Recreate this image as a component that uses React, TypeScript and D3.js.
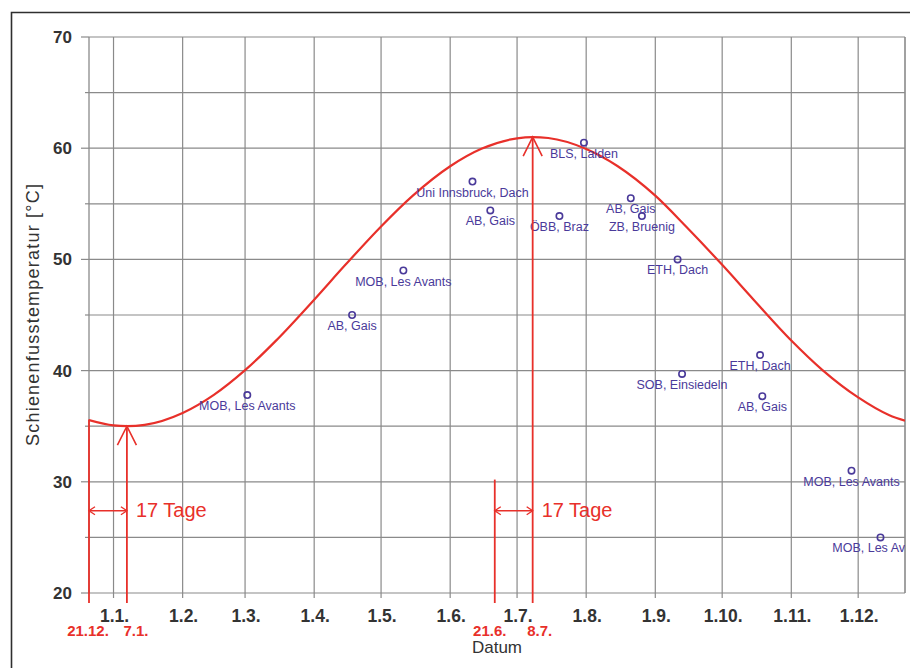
import React from "react";
import * as d3 from "d3";

// ---------- data ----------
const monthTicks = ["2011-01-01","2011-02-01","2011-03-01","2011-04-01","2011-05-01","2011-06-01","2011-07-01","2011-08-01","2011-09-01","2011-10-01","2011-11-01","2011-12-01"];
const monthTickLabels = ["1.1.","1.2.","1.3.","1.4.","1.5.","1.6.","1.7.","1.8.","1.9.","1.10.","1.11.","1.12."];
const yTicks = [20, 30, 40, 50, 60, 70];
const yGrid = [20, 25, 30, 35, 40, 45, 50, 55, 60, 65, 70];

const curveDates = ["2010-12-21","2011-01-01","2011-01-07","2011-01-15","2011-02-01","2011-02-15","2011-03-01","2011-03-15","2011-04-01","2011-04-15","2011-05-01","2011-05-15","2011-06-01","2011-06-15","2011-07-01","2011-07-08","2011-07-15","2011-08-01","2011-08-15","2011-09-01","2011-09-15","2011-10-01","2011-10-15","2011-11-01","2011-11-15","2011-12-01","2011-12-15","2011-12-22"];
const curveTemps = [35.55,35.07,35.0,35.12,36.19,37.82,40.04,42.72,46.38,49.51,52.96,55.69,58.38,59.95,60.89,61.0,60.92,59.93,58.40,55.73,52.91,49.51,46.40,42.71,40.05,37.59,35.99,35.50];

const sensorDates = ["2011-03-02","2011-04-18","2011-05-11","2011-06-11","2011-06-19","2011-07-31","2011-07-20","2011-08-21","2011-08-26","2011-09-11","2011-10-18","2011-09-13","2011-10-19","2011-11-28","2011-12-11"];
const sensorTemps = [37.8,45.0,49.0,57.0,54.4,60.5,53.9,55.5,53.9,50.0,41.4,39.7,37.7,31.0,25.0];
const sensorLabels = ["MOB, Les Avants","AB, Gais","MOB, Les Avants","Uni Innsbruck, Dach","AB, Gais","BLS, Lalden","ÖBB, Braz","AB, Gais","ZB, Bruenig","ETH, Dach","ETH, Dach","SOB, Einsiedeln","AB, Gais","MOB, Les Avants","MOB, Les Avants"];

const markDates = ["2010-12-21","2011-01-07","2011-06-21","2011-07-08"];
const markLabels = ["21.12.","7.1.","21.6.","8.7."];
const markTopTemps = [35.6, 35.0, 30.2, 61.0];
const markIsArrow = [false, true, false, true];
const spanPairs = [[0, 1], [2, 3]];
const spanText = "17 Tage";
const spanTemp = 27.4;

// ---------- styles ----------
const FONT = "'Liberation Sans', Arial, Helvetica, sans-serif";
const RED = "#e8302a";
const PURPLE = "#4a3a9a";
const GRID = "#8a8a8a";
const TEXT = "#333333";

const parse = d3.utcParse("%Y-%m-%d");

export default function App() {
  const W = 910, H = 668;
  const L = 89, R = 905, T = 37, B = 593;

  const x = d3.scaleUtc()
    .domain([parse("2010-12-21")!, parse("2011-12-22")!])
    .range([L, R]);
  const y = d3.scaleLinear().domain([20, 70]).range([B, T]);

  const curvePts = curveDates.map((d, i) => [x(parse(d)!), y(curveTemps[i])] as [number, number]);
  const line = d3.line().curve(d3.curveMonotoneX);
  const curvePath = line(curvePts) || "";

  const markX = markDates.map(d => x(parse(d)!));
  const labelDx = [-1, 9, -5, 7];

  const arrowY = y(spanTemp);

  return (
    <svg width={W} height={H} style={{ position: "absolute", left: 0, top: 0, background: "#fff" }}
      fontFamily={FONT}>
      <defs>
        <clipPath id="plotclip">
          <rect x={L} y={T - 2} width={R - L} height={B - T + 4} />
        </clipPath>
      </defs>
      <rect x={0} y={0} width={W} height={H} fill="#fff" />
      {/* outer frame */}
      <path d={`M11.5,${H + 5} L11.5,12.5 L${W + 5},12.5`} fill="none" stroke="#2f2f2f" strokeWidth={1.6} />

      {/* grid */}
      {yGrid.map(v => (
        <line key={"h" + v} x1={L} x2={R} y1={y(v)} y2={y(v)} stroke={GRID} strokeWidth={1.2} />
      ))}
      {monthTicks.map(d => (
        <line key={"v" + d} x1={x(parse(d)!)} x2={x(parse(d)!)} y1={T} y2={B} stroke={GRID} strokeWidth={1.2} />
      ))}
      <line x1={L} x2={L} y1={T} y2={B} stroke={GRID} strokeWidth={1.3} />
      <line x1={R} x2={R} y1={T} y2={B} stroke={GRID} strokeWidth={1.6} />

      {/* y ticks */}
      {yGrid.map(v => (
        <line key={"yt" + v} x1={v % 10 === 0 ? L - 8 : L - 4} x2={L} y1={y(v)} y2={y(v)} stroke={GRID} strokeWidth={1.2} />
      ))}
      {yTicks.map(v => (
        <text key={"yl" + v} x={72} y={y(v) + 6} textAnchor="end" fontSize={17} fontWeight="bold" fill={TEXT}>{v}</text>
      ))}
      {/* x ticks */}
      {monthTicks.map((d, i) => (
        <g key={"xt" + d}>
          <line x1={x(parse(d)!)} x2={x(parse(d)!)} y1={B} y2={B + 5} stroke={GRID} strokeWidth={1.2} />
          <text x={x(parse(d)!) + 1} y={622} textAnchor="middle" fontSize={17.5} fontWeight="bold" fill={TEXT}>{monthTickLabels[i]}</text>
        </g>
      ))}

      {/* axis titles */}
      <text transform={`translate(39,315) rotate(-90)`} textAnchor="middle" fontSize={18} fill={TEXT}
        textLength={262} lengthAdjust="spacing">Schienenfusstemperatur [°C]</text>
      <text x={497} y={653} textAnchor="middle" fontSize={17} fill={TEXT}>Datum</text>

      {/* sine curve */}
      <g clipPath="url(#plotclip)">
        <path d={curvePath} fill="none" stroke={RED} strokeWidth={2.2} />
      </g>

      {/* sensor points */}
      <g clipPath="url(#plotclip)">
        {sensorDates.map((d, i) => {
          const cx = x(parse(d)!), cy = y(sensorTemps[i]);
          return (
            <g key={"s" + i}>
              <circle cx={cx} cy={cy} r={3.2} fill="none" stroke={PURPLE} strokeWidth={1.6} />
              <text x={cx} y={cy + 15} textAnchor="middle" fontSize={12.5} fill={PURPLE}>{sensorLabels[i]}</text>
            </g>
          );
        })}
      </g>

      {/* annotation lines */}
      {markDates.map((d, i) => {
        const mx = markX[i];
        const top = y(markTopTemps[i]);
        return (
          <g key={"m" + i}>
            <line x1={mx} x2={mx} y1={603} y2={top} stroke={RED} strokeWidth={1.8} />
            {markIsArrow[i] && (
              <path d={`M${mx - 9.5},${top + 19} L${mx},${top} L${mx + 9.5},${top + 19}`} fill="none" stroke={RED} strokeWidth={1.6} />
            )}
            <text x={mx + labelDx[i]} y={636} textAnchor="middle" fontSize={15} fontWeight="bold" fill={RED}>{markLabels[i]}</text>
          </g>
        );
      })}

      {/* 17 Tage spans */}
      {spanPairs.map(([a, b], i) => {
        const x1 = markX[a], x2 = markX[b];
        return (
          <g key={"sp" + i}>
            <line x1={x1} x2={x2} y1={arrowY} y2={arrowY} stroke={RED} strokeWidth={1.4} />
            <path d={`M${x1 + 6},${arrowY - 4} L${x1},${arrowY} L${x1 + 6},${arrowY + 4}`} fill="none" stroke={RED} strokeWidth={1.3} />
            <path d={`M${x2 - 6},${arrowY - 4} L${x2},${arrowY} L${x2 - 6},${arrowY + 4}`} fill="none" stroke={RED} strokeWidth={1.3} />
            <text x={x2 + 9} y={arrowY + 6} fontSize={20} fill={RED}>{spanText}</text>
          </g>
        );
      })}
    </svg>
  );
}
